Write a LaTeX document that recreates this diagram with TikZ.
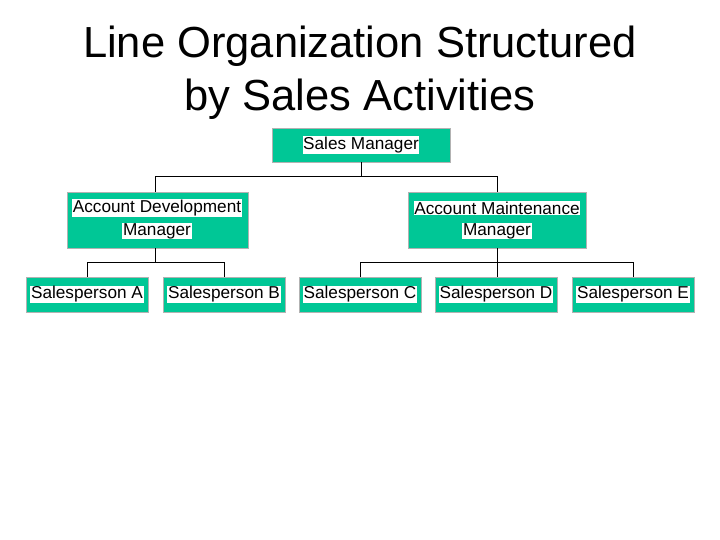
\documentclass[tikz,border=0pt]{standalone}
\usepackage{fontspec}
\setmainfont{Liberation Sans}
\begin{document}
\begin{tikzpicture}[x=1pt,y=-1pt,
  box/.style={draw=gray!60,line width=0.8pt,fill=boxgreen},
  lbl/.style={fill=white,inner sep=0.6pt,font=\fontsize{17.2}{23}\selectfont,align=center},
  conn/.style={draw=black,line width=1pt}]
\definecolor{boxgreen}{RGB}{0,199,150}
\useasboundingbox (0,0) rectangle (720,540);
\node[font=\fontsize{43.5}{53}\selectfont,align=center] (title) at (360,73) {Line Organization Structured\\by Sales Activities};
% boxes
\draw[box] (272,128) rectangle (450,162); \node[lbl] (sm) at (361,145) {Sales Manager};
\draw[box] (67,192) rectangle (248,248);
\node[lbl] (adm1) at (157,208) {Account Development};
\node[lbl] (adm2) at (157,231) {Manager};
\draw[box] (408,192) rectangle (586,248);
\node[lbl] (amm1) at (497,208) {Account Maintenance};
\node[lbl] (amm2) at (497,231) {Manager};
\foreach \n/\x/\t in {a/87/A,b/224/B,c/360/C,d/496/D,e/633/E}{
  \draw[box] (\x-61,277) rectangle (\x+61,312);
  \node[lbl] (s\n) at (\x,294.5) {Salesperson \t};
}
\coordinate (smb) at (361,162);
\coordinate (admt) at (155,192); \coordinate (ammt) at (497,192);
\coordinate (admb) at (155,248); \coordinate (ammb) at (497,248);
\draw[conn] (smb) -- (361,177) -| (admt);
\draw[conn] (361,177) -| (ammt);
\draw[conn] (admb) -- (155,262) -| (87,277);
\draw[conn] (155,262) -| (224,277);
\draw[conn] (ammb) -- (497,262) -| (360,277);
\draw[conn] (497,262) -| (633,277);
\draw[conn] (497,262) -- (497,277);
\end{tikzpicture}
\end{document}
